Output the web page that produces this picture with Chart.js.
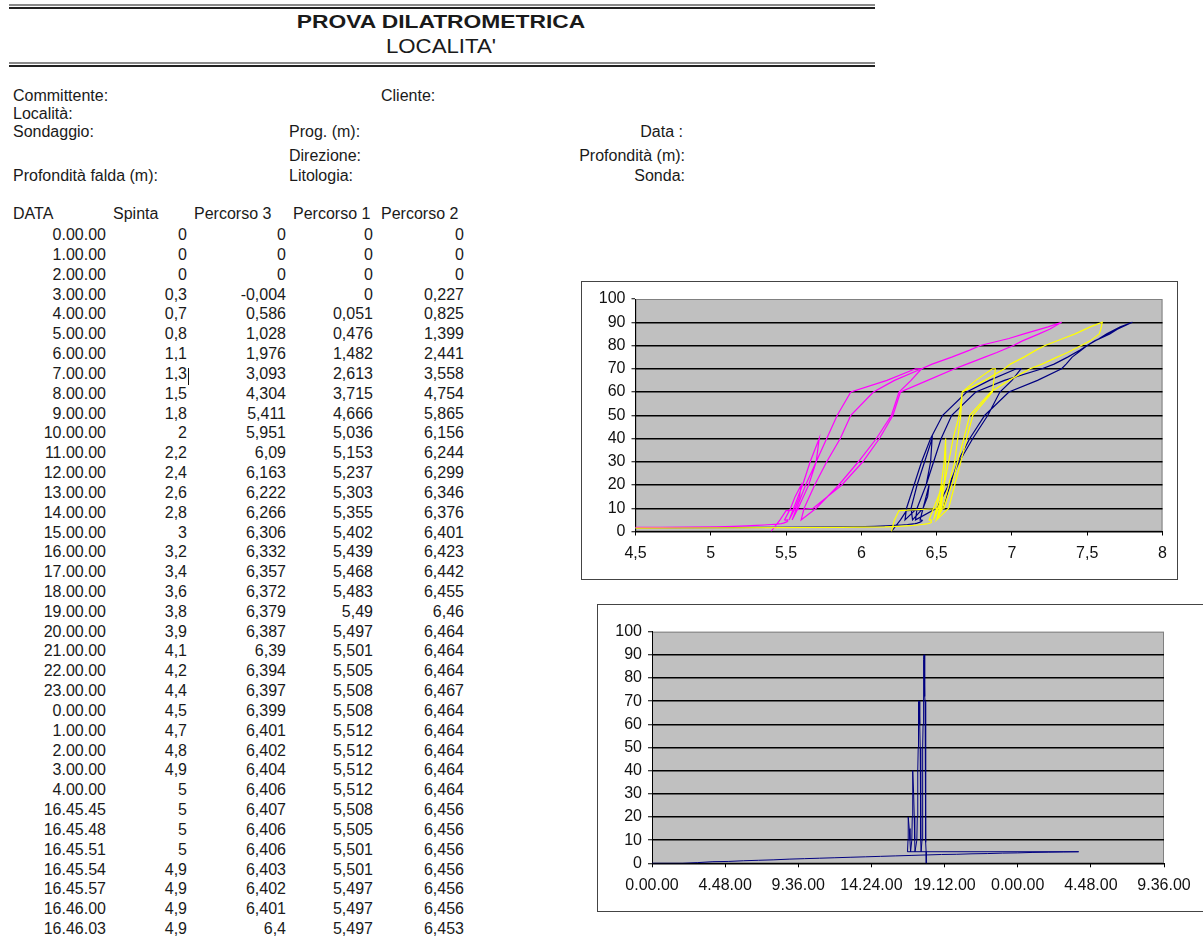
<!DOCTYPE html>
<html lang="it">
<head>
<meta charset="utf-8">
<title>Prova dilatrometrica</title>
<script src="https://cdn.jsdelivr.net/npm/chart.js@4.4.1/dist/chart.umd.min.js"></script>
<style>
  html, body { margin: 0; padding: 0; background: #fff; }
  body { width: 1203px; height: 938px; overflow: hidden; position: relative;
         font-family: "Liberation Sans", Arial, sans-serif; font-size: 16px; color: #1a1a1a; }
  .t { position: absolute; white-space: nowrap; line-height: 18px; }
  .r { text-align: right; }
  .riga { position: absolute; left: 9px; width: 866px; }
  .box { position: absolute; border: 1px solid #444; background: #fff; }
  .box canvas { display: block; }
</style>
</head>
<body>
<!-- intestazione -->
<div class="riga" style="top:4px;height:2px;background:#8a8a8a"></div>
<div class="riga" style="top:7px;height:2px;background:#222"></div>
<div class="t" style="left:441px;top:12px;font-size:19px;font-weight:bold;line-height:20px;transform:translateX(-50%) scaleX(1.2)">PROVA DILATROMETRICA</div>
<div class="t" style="left:441px;top:36px;font-size:19.5px;line-height:20px;transform:translateX(-50%) scaleX(1.14)">LOCALITA'</div>
<div class="riga" style="top:62px;height:2px;background:#8a8a8a"></div>
<div class="riga" style="top:65px;height:2px;background:#222"></div>

<div class="t" style="left:13px;top:87px">Committente:</div>
<div class="t" style="left:381px;top:87px">Cliente:</div>
<div class="t" style="left:13px;top:105px">Località:</div>
<div class="t" style="left:13px;top:123px">Sondaggio:</div>
<div class="t" style="left:289px;top:123px">Prog. (m):</div>
<div class="t r" style="right:520px;top:123px">Data :</div>
<div class="t" style="left:289px;top:147px">Direzione:</div>
<div class="t r" style="right:518px;top:147px">Profondità (m):</div>
<div class="t" style="left:13px;top:167px">Profondità falda (m):</div>
<div class="t" style="left:289px;top:167px">Litologia:</div>
<div class="t r" style="right:518px;top:167px">Sonda:</div>

<div id="tabella"></div>
<div style="position:absolute;left:188px;top:368px;width:1px;height:17px;background:#111"></div>

<div class="box" style="left:581px;top:281px;width:595px;height:297px">
  <canvas id="grafPercorso" width="595" height="297"></canvas>
</div>
<div class="box" style="left:597px;top:604px;width:618px;height:306px">
  <canvas id="grafTempo" width="618" height="306"></canvas>
</div>

<script>
// dati della prova: ore, spinta e i tre percorsi
// (prime 36 righe = tabella stampata, poi i cicli di carico/scarico)
const ore = [
  0, 1, 2, 3, 4, 5, 6, 7, 8, 9, 10, 11, 12, 13, 14, 15, 16, 17, 18, 19, 20, 21, 22, 23,
  24, 25, 26, 27, 28,
  16.7625, 16.763333, 16.764167, 16.765, 16.765833, 16.766667, 16.7675,
  16.78,
  16.80, 16.81, 16.82, 16.88, 16.93, 16.97,
  17.05, 17.08, 17.10, 17.12, 17.17, 17.21, 17.24, 17.26,
  17.38, 17.41, 17.43, 17.45, 17.47, 17.48, 17.49, 17.50,
  17.53, 17.56, 17.58, 17.60, 17.62, 17.63, 17.64, 17.65, 17.66,
  17.72, 17.74, 17.76, 17.77, 17.78, 17.79, 17.80, 17.81, 17.815, 17.82, 17.825, 17.83, 17.835, 17.84, 17.845, 17.85,
  17.87, 17.88, 17.89, 17.90, 17.905, 17.91, 17.915, 17.92, 17.93, 17.94, 17.95, 17.96, 17.965, 17.97, 17.975, 17.98, 17.99, 18.00
];
const spinta = [
  0, 0, 0, 0.3, 0.7, 0.8, 1.1, 1.3, 1.5, 1.8, 2, 2.2, 2.4, 2.6, 2.8, 3, 3.2, 3.4, 3.6, 3.8, 3.9, 4.1, 4.2, 4.4,
  4.5, 4.7, 4.8, 4.9, 5,
  5, 5, 5, 4.9, 4.9, 4.9, 4.9,
  5,
  10, 15, 20, 15, 10, 5,
  10, 20, 30, 40, 30, 20, 10, 5,
  10, 20, 30, 40, 50, 60, 65, 70,
  70, 65, 60, 50, 40, 30, 20, 10, 5,
  10, 20, 30, 40, 50, 60, 65, 70, 72, 75, 78, 80, 83, 85, 88, 90,
  87, 85, 82, 80, 77, 75, 72, 70, 65, 60, 50, 40, 30, 20, 10, 9, 5, 0
];
const percorso3 = [
  0, 0, 0, -0.004, 0.586, 1.028, 1.976, 3.093, 4.304, 5.411, 5.951, 6.09, 6.163, 6.222, 6.266, 6.306, 6.332, 6.357, 6.372, 6.379, 6.387, 6.39, 6.394, 6.397,
  6.399, 6.401, 6.402, 6.404, 6.406,
  6.407, 6.406, 6.406, 6.403, 6.402, 6.401, 6.4,
  6.39,
  6.41, 6.43, 6.45, 6.44, 6.41, 6.34,
  6.33, 6.37, 6.42, 6.47, 6.46, 6.43, 6.37, 6.29,
  6.30, 6.35, 6.40, 6.46, 6.54, 6.70, 6.85, 7.03,
  7.06, 7.00, 6.92, 6.84, 6.74, 6.65, 6.58, 6.50, 6.36,
  6.37, 6.43, 6.48, 6.53, 6.60, 6.76, 6.95, 7.20, 7.28, 7.37, 7.45, 7.50, 7.58, 7.63, 7.72, 7.80,
  7.70, 7.65, 7.55, 7.50, 7.44, 7.40, 7.36, 7.33, 7.17, 6.98, 6.82, 6.72, 6.64, 6.59, 6.54, 6.30, 6.26, 6.20
];
const percorso1 = [
  0, 0, 0, 0, 0.051, 0.476, 1.482, 2.613, 3.715, 4.666, 5.036, 5.153, 5.237, 5.303, 5.355, 5.402, 5.439, 5.468, 5.483, 5.49, 5.497, 5.501, 5.505, 5.508,
  5.508, 5.512, 5.512, 5.512, 5.512,
  5.508, 5.505, 5.501, 5.501, 5.497, 5.497, 5.497,
  5.49,
  5.53, 5.56, 5.60, 5.59, 5.56, 5.52,
  5.55, 5.61, 5.66, 5.72, 5.70, 5.65, 5.58, 5.54,
  5.57, 5.63, 5.70, 5.77, 5.84, 5.93, 6.17, 6.36,
  6.40, 6.33, 6.25, 6.20, 6.10, 5.98, 5.85, 5.70, 5.60,
  5.62, 5.69, 5.77, 5.86, 5.93, 6.08, 6.22, 6.40, 6.47, 6.60, 6.72, 6.79, 6.98, 7.08, 7.24, 7.33,
  7.25, 7.18, 7.07, 7.01, 6.90, 6.82, 6.70, 6.62, 6.44, 6.26, 6.21, 6.12, 6.01, 5.87, 5.68, 5.50, 5.46, 5.40
];
const percorso2 = [
  0, 0, 0, 0.227, 0.825, 1.399, 2.441, 3.558, 4.754, 5.865, 6.156, 6.244, 6.299, 6.346, 6.376, 6.401, 6.423, 6.442, 6.455, 6.46, 6.464, 6.464, 6.464, 6.467,
  6.464, 6.464, 6.464, 6.464, 6.464,
  6.456, 6.456, 6.456, 6.456, 6.456, 6.456, 6.453,
  6.45,
  6.48, 6.51, 6.54, 6.53, 6.51, 6.48,
  6.50, 6.53, 6.55, 6.56, 6.56, 6.55, 6.53, 6.50,
  6.52, 6.55, 6.58, 6.61, 6.65, 6.67, 6.76, 6.87,
  6.89, 6.88, 6.87, 6.74, 6.70, 6.66, 6.62, 6.58, 6.50,
  6.54, 6.58, 6.62, 6.64, 6.66, 6.67, 6.82, 6.95, 6.99, 7.08, 7.16, 7.22, 7.34, 7.42, 7.52, 7.60,
  7.59, 7.58, 7.52, 7.46, 7.37, 7.30, 7.20, 7.12, 6.98, 6.86, 6.72, 6.68, 6.64, 6.60, 6.55, 6.25, 6.22, 6.20
];
const righeTabella = 36;
const tickPercorso = [4.5, 5, 5.5, 6, 6.5, 7, 7.5, 8];
const tickSpinta = [0, 10, 20, 30, 40, 50, 60, 70, 80, 90, 100];
const tickOre = [0, 4.8, 9.6, 14.4, 19.2, 24, 28.8, 33.6];

const FONT = "'Liberation Sans', Arial, sans-serif";

function formatoOra(h) {
  let s = Math.round(h * 3600) % 86400;
  const hh = Math.floor(s / 3600);
  const mm = Math.floor((s % 3600) / 60);
  const ss = s % 60;
  return hh + "." + String(mm).padStart(2, "0") + "." + String(ss).padStart(2, "0");
}

function virgola(v) {
  return String(v).replace(".", ",");
}

// tabella dei dati (solo le prime righe, come nel foglio)
function disegnaTabella() {
  const tab = document.getElementById("tabella");
  const intest = [["DATA", 13], ["Spinta", 113], ["Percorso 3", 194], ["Percorso 1", 293], ["Percorso 2", 381]];
  intest.forEach(([txt, x]) => {
    const d = document.createElement("div");
    d.className = "t";
    d.style.left = x + "px";
    d.style.top = "205px";
    d.textContent = txt;
    tab.appendChild(d);
  });
  const destre = [106, 187, 286, 373, 464];
  for (let i = 0; i < righeTabella; i++) {
    const valori = [formatoOra(ore[i]), virgola(spinta[i]), virgola(percorso3[i]), virgola(percorso1[i]), virgola(percorso2[i])];
    const y = 226 + i * 19.83;
    valori.forEach((txt, c) => {
      const d = document.createElement("div");
      d.className = "t r";
      d.style.right = (1203 - destre[c]) + "px";
      d.style.top = y.toFixed(1) + "px";
      d.textContent = txt;
      tab.appendChild(d);
    });
  }
}

const sfondoGrigio = {
  id: "sfondoGrigio",
  beforeDraw(chart) {
    const a = chart.chartArea, ctx = chart.ctx;
    ctx.save();
    ctx.fillStyle = "#c0c0c0";
    ctx.fillRect(a.left, a.top, a.right - a.left, a.bottom - a.top);
    ctx.strokeStyle = "#808080";
    ctx.lineWidth = 1;
    ctx.strokeRect(a.left + 0.5, a.top + 0.5, a.right - a.left - 1, a.bottom - a.top - 1);
    ctx.restore();
  }
};

function assey(larghezza) {
  return {
    type: "linear", min: 0, max: 100,
    afterBuildTicks: s => { s.ticks = tickSpinta.map(v => ({ value: v })); },
    afterFit: s => { s.width = larghezza; },
    grid: {
      color: c => (c.tick && c.tick.value === 100) ? "rgba(0,0,0,0)" : "#000",
      lineWidth: 1.5, tickLength: 4, tickColor: "#000", tickWidth: 1
    },
    border: { color: "#000", width: 1 },
    ticks: { font: { family: FONT, size: 16 }, color: "#111", padding: 6 }
  };
}

function creaGrafici() {
  const punti = serie => serie.map((x, i) => ({ x: x, y: spinta[i] }));
  new Chart(document.getElementById("grafPercorso"), {
    type: "scatter",
    data: {
      datasets: [
        { label: "Percorso 3", data: punti(percorso3), borderColor: "#000080", order: 2 },
        { label: "Percorso 1", data: punti(percorso1), borderColor: "#ff00ff", order: 1 },
        { label: "Percorso 2", data: punti(percorso2), borderColor: "#ffff00", order: 0 }
      ]
    },
    options: {
      responsive: false, animation: false,
      showLine: true,
      elements: { point: { radius: 0 }, line: { borderWidth: 1.2, tension: 0 } },
      layout: { padding: { top: 17, right: 14.5, left: 0, bottom: 0 } },
      plugins: { legend: { display: false }, tooltip: { enabled: false } },
      scales: {
        x: {
          type: "linear", min: 4.5, max: 8,
          afterBuildTicks: s => { s.ticks = tickPercorso.map(v => ({ value: v })); },
          afterFit: s => { s.height = 47.5; },
          grid: { drawOnChartArea: false, tickLength: 4, tickColor: "#000" },
          border: { color: "#000", width: 1 },
          ticks: { font: { family: FONT, size: 16 }, color: "#111", padding: 8, maxRotation: 0, autoSkip: false,
                   callback: v => virgola(v) }
        },
        y: assey(53.5)
      }
    },
    plugins: [sfondoGrigio]
  });

  new Chart(document.getElementById("grafTempo"), {
    type: "scatter",
    data: {
      datasets: [
        { label: "Spinta", data: ore.map((h, i) => ({ x: h, y: spinta[i] })), borderColor: "#000080" }
      ]
    },
    options: {
      responsive: false, animation: false,
      showLine: true,
      elements: { point: { radius: 0 }, line: { borderWidth: 1, tension: 0 } },
      layout: { padding: { top: 26.7, right: 52, left: 0, bottom: 0 } },
      plugins: { legend: { display: false }, tooltip: { enabled: false } },
      scales: {
        x: {
          type: "linear", min: 0, max: 33.6,
          afterBuildTicks: s => { s.ticks = tickOre.map(v => ({ value: v })); },
          afterFit: s => { s.height = 47.7; },
          grid: { drawOnChartArea: false, tickLength: 4, tickColor: "#000" },
          border: { color: "#000", width: 1 },
          ticks: { font: { family: FONT, size: 16 }, color: "#111", padding: 9, maxRotation: 0, autoSkip: false,
                   callback: v => formatoOra(v) }
        },
        y: assey(54)
      }
    },
    plugins: [sfondoGrigio]
  });
}

disegnaTabella();
creaGrafici();
</script>
</body>
</html>
